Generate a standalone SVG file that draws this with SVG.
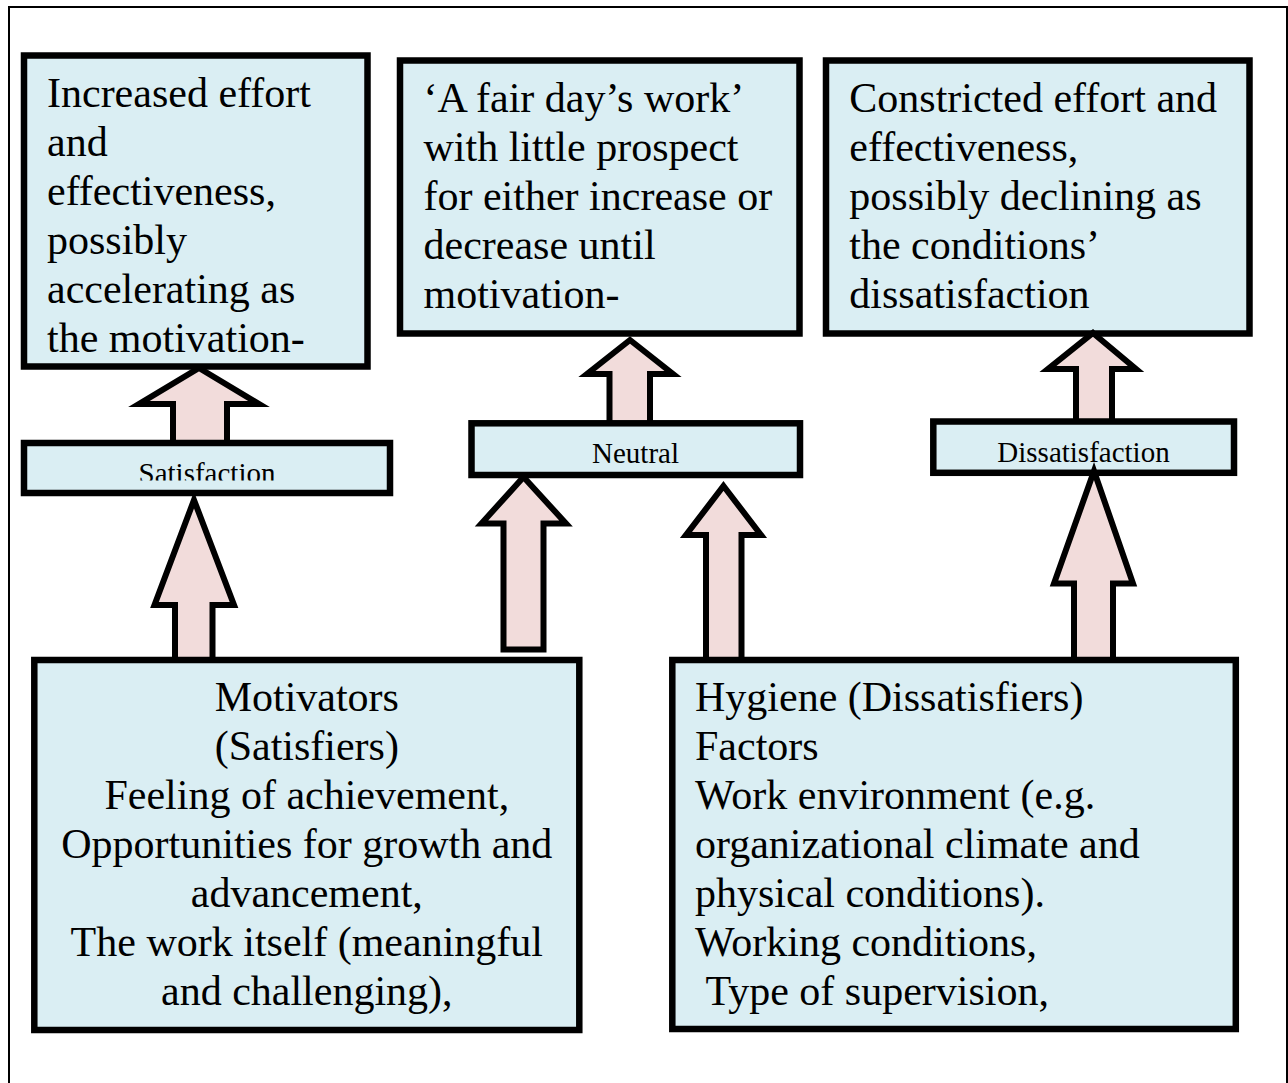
<svg xmlns="http://www.w3.org/2000/svg" width="1288" height="1083" viewBox="0 0 1288 1083">
<style>
.frame{fill:none;stroke:#000;stroke-width:2}
.box{fill:#DAEEF3;stroke:#000;stroke-width:6.5}
.arrow{fill:#F2DCDB;stroke:#000;stroke-width:6;stroke-linejoin:miter;stroke-miterlimit:10}
.t{font-family:"Liberation Serif","Times New Roman",serif;font-size:42px;fill:#000}
.s{font-family:"Liberation Serif","Times New Roman",serif;font-size:29px;fill:#000;text-anchor:middle}
.c{text-anchor:middle}
</style>
<defs>
<clipPath id="satClip"><rect x="27" y="446" width="360" height="34.5"/></clipPath>
</defs>
<rect width="1288" height="1083" fill="#fff"/>
<rect class="frame" x="9" y="7" width="1278" height="1100"/>

<g id="node-increased">
<rect class="box" x="24" y="55.5" width="343.5" height="311"/>
<text class="t" x="47" y="106.7">Increased effort</text>
<text class="t" x="47" y="155.7">and</text>
<text class="t" x="47" y="204.7">effectiveness,</text>
<text class="t" x="47" y="253.7">possibly</text>
<text class="t" x="47" y="302.7">accelerating as</text>
<text class="t" x="47" y="351.7">the motivation-</text>
</g>
<g id="node-fairday">
<rect class="box" x="400" y="60.5" width="399.5" height="273"/>
<text class="t" x="423.5" y="111.7">‘A fair day’s work’</text>
<text class="t" x="423.5" y="160.7">with little prospect</text>
<text class="t" x="423.5" y="209.7">for either increase or</text>
<text class="t" x="423.5" y="258.7">decrease until</text>
<text class="t" x="423.5" y="307.7">motivation-</text>
</g>
<g id="node-constricted">
<rect class="box" x="826" y="60.5" width="423.5" height="273"/>
<text class="t" x="849.3" y="111.7">Constricted effort and</text>
<text class="t" x="849.3" y="160.7">effectiveness,</text>
<text class="t" x="849.3" y="209.7">possibly declining as</text>
<text class="t" x="849.3" y="258.7">the conditions’</text>
<text class="t" x="849.3" y="307.7">dissatisfaction</text>
</g>

<g id="connectors-upper">
<path class="arrow" d="M199,368 L259,404 L227,404 L227,446 L173,446 L173,404 L139,404 Z"/>
<path class="arrow" d="M630,340 L673,374 L650,374 L650,424 L609.5,424 L609.5,374 L587,374 Z"/>
<path class="arrow" d="M1093,333 L1136,369 L1112,369 L1112,422 L1076,422 L1076,369 L1048,369 Z"/>
</g>

<g id="node-satisfaction">
<rect class="box" x="24" y="443" width="366" height="50"/>
<text class="s" x="207" y="483" clip-path="url(#satClip)">Satisfaction</text>
</g>
<g id="node-neutral">
<rect class="box" x="471.5" y="423.3" width="328.5" height="51.7"/>
<text class="s" x="635.5" y="462.7">Neutral</text>
</g>
<g id="node-dissatisfaction">
<rect class="box" x="933.3" y="421.5" width="300.7" height="51.3"/>
<text class="s" x="1083.5" y="461.7">Dissatisfaction</text>
</g>

<g id="connectors-lower">
<path class="arrow" d="M194,500 L234,605 L212.5,605 L212.5,661 L175,661 L175,605 L154.5,605 Z"/>
<path class="arrow" d="M523.5,477 L566,523.5 L543.5,523.5 L543.5,649.5 L503.5,649.5 L503.5,523.5 L481.5,523.5 Z"/>
<path class="arrow" d="M723.5,486 L761,535 L741.5,535 L741.5,661 L706,661 L706,535 L686,535 Z"/>
<path class="arrow" d="M1094,471 L1133,583.5 L1113,583.5 L1113,661 L1074,661 L1074,583.5 L1054,583.5 Z"/>
</g>

<g id="node-motivators">
<rect class="box" x="34.3" y="660" width="545" height="370"/>
<text class="t c" x="306.8" y="710.7">Motivators</text>
<text class="t c" x="306.8" y="759.7">(Satisfiers)</text>
<text class="t c" x="306.8" y="808.7">Feeling of achievement,</text>
<text class="t c" x="306.8" y="857.7">Opportunities for growth and</text>
<text class="t c" x="306.8" y="906.7">advancement,</text>
<text class="t c" x="306.8" y="955.7">The work itself (meaningful</text>
<text class="t c" x="306.8" y="1004.7">and challenging),</text>
</g>
<g id="node-hygiene">
<rect class="box" x="672.3" y="660" width="563.5" height="369"/>
<text class="t" x="695" y="710.7">Hygiene (Dissatisfiers)</text>
<text class="t" x="695" y="759.7">Factors</text>
<text class="t" x="695" y="808.7">Work environment (e.g.</text>
<text class="t" x="695" y="857.7">organizational climate and</text>
<text class="t" x="695" y="906.7">physical conditions).</text>
<text class="t" x="695" y="955.7">Working conditions,</text>
<text class="t" x="705.5" y="1004.7">Type of supervision,</text>
</g>
</svg>
